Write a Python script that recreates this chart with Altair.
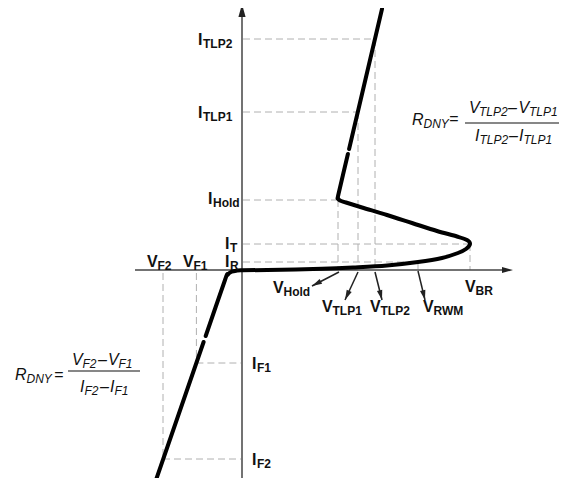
import math
import altair as alt
import pandas as pd

# ---- Diagram coordinates: V (horizontal), I (vertical); origin at the axes crossing ----

# I-V characteristic, three drawn pieces (gaps between them as in the original)
seg_a_v = [-86.7, -38.4]
seg_a_i = [-212, -72]
seg_b_v = [-36.3, -17, -14.5, -10.5, -5, 0, 40, 80, 111, 145, 176, 200, 216, 224, 228,
           225, 215, 195, 170, 145, 120, 104, 98, 96, 96.5, 105.9]
seg_b_i = [-66, -10, -5, -1.8, -0.6, -0.3, 0.3, 1.2, 2.5, 4.5, 8, 12, 17, 21, 26,
           30, 33.5, 39, 47, 55, 62.5, 67.5, 69.5, 72, 76, 116]
seg_c_v = [107.1, 140]
seg_c_i = [121, 261]

# Characteristic levels
I_TLP2, I_TLP1, I_HOLD, I_T, I_R = 231, 158, 70, 26, 8
V_TLP2, V_TLP1, V_HOLD, V_BR, V_RWM = 133, 116, 96, 228, 176
V_F2, V_F1, I_F2, I_F1 = -79, -45.6, -189, -93

# dashed guide lines: (V1, I1, V2, I2)
guides = [
    (1, I_TLP2, V_TLP2, I_TLP2), (V_TLP2, I_TLP2, V_TLP2, 1),
    (1, I_TLP1, V_TLP1, I_TLP1), (V_TLP1, I_TLP1, V_TLP1, 1),
    (1, I_HOLD, V_HOLD, I_HOLD), (V_HOLD, I_HOLD, V_HOLD, 1),
    (1, I_T, V_BR, I_T), (V_BR, I_T, V_BR, 0),
    (1, I_R, V_RWM, I_R), (V_RWM, I_R, V_RWM, 0),
    (V_F2, -3, V_F2, I_F2), (V_F2, I_F2, -1, I_F2),
    (V_F1, -3, V_F1, I_F1), (V_F1, I_F1, -1, I_F1),
]

# axes (V1, I1, V2, I2)
axes_lines = [(0, -216, 0, 256), (-107, 0, 262, 0)]
# axis arrow tips (V, I, length)
axis_tips = [(0, 266, 13), (271, 0, 11)]

# label pointer arrows: start (V, I) -> tip (V, I)
pointer_start_v = [97, 116, 133, 176]
pointer_start_i = [-2, -2, -2, -1]
pointer_tip_v = [70, 103, 140, 183]
pointer_tip_i = [-16, -30, -30, -30]

# bold labels: main letter, subscript, left V, baseline I
lab_main = ["I", "I", "I", "I", "I", "V", "V", "I", "I", "V", "V", "V", "V", "V"]
lab_sub = ["TLP2", "TLP1", "Hold", "T", "R", "F2", "F1", "F1", "F2", "Hold", "TLP1", "TLP2", "RWM", "BR"]
lab_v = [-44, -44, -34, -17, -17, -95, -59, 10, 10, 31, 80, 128, 181, 223]
lab_i = [225, 152, 66, 21, 3, 3, 3, -99, -195, -23, -42, -42, -42, -22]

# formula pieces (italic): text, V, I, is_sub
f_text = ["R", "DNY", "=", "V", "TLP2", "–", "V", "TLP1", "I", "TLP2", "–", "I", "TLP1",
          "R", "DNY", "=", "V", "F2", "–", "V", "F1", "I", "F2", "–", "I", "F1"]
f_v = [170, 181.5, 207, 227, 237, 266, 276.5, 287, 233, 237.5, 267, 277, 281.5,
       -227, -215.5, -188, -170, -159.5, -144, -134, -123.5, -162, -157.5, -142, -132, -127.5]
f_i = [145, 142, 146, 157, 154, 157, 157, 154, 129, 126, 129, 129, 126,
       -110, -113, -110, -95, -98, -95, -95, -98, -122, -125, -122, -122, -125]
f_sub = [0, 1, 0, 0, 1, 0, 0, 1, 0, 1, 0, 0, 1,
         0, 1, 0, 0, 1, 0, 0, 1, 0, 1, 0, 0, 1]
# fraction bars (V1, I1, V2, I2)
frac_bars = [(223, 147, 317, 147), (-174, -101, -102, -101)]

# ---- tables ----
curve_rows = []
for name, vs, is_ in [("a", seg_a_v, seg_a_i), ("b", seg_b_v, seg_b_i), ("c", seg_c_v, seg_c_i)]:
    for k, (v, i) in enumerate(zip(vs, is_)):
        curve_rows.append({"seg": name, "ord": k, "V": v, "I": i})
curve_df = pd.DataFrame(curve_rows)

def seg_df(rows):
    return pd.DataFrame(rows, columns=["V1", "I1", "V2", "I2"])

guide_df = seg_df(guides)
axes_df = seg_df(axes_lines)
frac_df = seg_df(frac_bars)
ptr_df = seg_df(list(zip(pointer_start_v, pointer_start_i, pointer_tip_v, pointer_tip_i)))

head_rows = []
# axis tips: up and right
head_rows.append({"V": 0, "I": axis_tips[0][1] - axis_tips[0][2] / 2, "ang": 180, "sz": axis_tips[0][2] ** 2})
head_rows.append({"V": axis_tips[1][0] - axis_tips[1][2] / 2, "I": 0, "ang": 270, "sz": axis_tips[1][2] ** 2})
for sv, si, tv, ti in zip(pointer_start_v, pointer_start_i, pointer_tip_v, pointer_tip_i):
    dx, dy = tv - sv, -(ti - si)  # screen direction
    L = math.hypot(dx, dy)
    ux, uy = dx / L, dy / L
    ang = math.degrees(math.atan2(-ux, uy)) % 360
    ln = 10
    head_rows.append({"V": tv - ux * ln / 2, "I": ti + uy * ln / 2, "ang": ang, "sz": ln ** 2})
head_df = pd.DataFrame(head_rows)

lab_df = pd.DataFrame({"main": lab_main, "sub": lab_sub, "V": lab_v, "I": lab_i})
lab_df["Vs"] = lab_df["V"] + lab_df["main"].map({"I": 5.0, "V": 10.5})
lab_df["Is"] = lab_df["I"] - 3

f_df = pd.DataFrame({"t": f_text, "V": f_v, "I": f_i, "sub": f_sub})

# ---- scales ----
xs = alt.Scale(domain=[-234, 319], nice=False, zero=False)
ys = alt.Scale(domain=[-208, 262], nice=False, zero=False)

def X(f):
    return alt.X(f, type="quantitative", scale=xs, axis=None)

def Y(f):
    return alt.Y(f, type="quantitative", scale=ys, axis=None)

guides_l = alt.Chart(guide_df).mark_rule(color="#b0b0b0", strokeWidth=1, strokeDash=[7, 4]).encode(
    x=X("V1"), y=Y("I1"), x2="V2:Q", y2="I2:Q")
axes_l = alt.Chart(axes_df).mark_rule(color="#444444", strokeWidth=1.5).encode(
    x=X("V1"), y=Y("I1"), x2="V2:Q", y2="I2:Q")
curve_l = alt.Chart(curve_df).mark_line(color="black", strokeWidth=4, strokeCap="round",
                                        strokeJoin="round", interpolate="cardinal").encode(
    x=X("V"), y=Y("I"), detail="seg:N", order="ord:Q")
ptr_l = alt.Chart(ptr_df).mark_rule(color="#222222", strokeWidth=1.5).encode(
    x=X("V1"), y=Y("I1"), x2="V2:Q", y2="I2:Q")
heads_l = alt.Chart(head_df).mark_point(shape="M0,1L-0.55,-1L0.55,-1Z", filled=True,
                                        color="#222222", opacity=1, strokeWidth=0).encode(
    x=X("V"), y=Y("I"), angle=alt.Angle("ang:Q", scale=None), size=alt.Size("sz:Q", scale=None))
frac_l = alt.Chart(frac_df).mark_rule(color="#111111", strokeWidth=1.2).encode(
    x=X("V1"), y=Y("I1"), x2="V2:Q", y2="I2:Q")

lab_main_l = alt.Chart(lab_df).mark_text(align="left", baseline="alphabetic", font="Liberation Sans",
                                         fontWeight="bold", fontSize=16, color="#111111").encode(
    x=X("V"), y=Y("I"), text="main:N")
lab_sub_l = alt.Chart(lab_df).mark_text(align="left", baseline="alphabetic", font="Liberation Sans",
                                        fontWeight="bold", fontSize=12, color="#111111").encode(
    x=X("Vs"), y=Y("Is"), text="sub:N")
f_main_l = alt.Chart(f_df[f_df["sub"] == 0]).mark_text(align="left", baseline="alphabetic",
                                                      font="Liberation Sans", fontStyle="italic",
                                                      fontSize=16, color="#111111").encode(
    x=X("V"), y=Y("I"), text="t:N")
f_sub_l = alt.Chart(f_df[f_df["sub"] == 1]).mark_text(align="left", baseline="alphabetic",
                                                     font="Liberation Sans", fontStyle="italic",
                                                     fontSize=12, color="#111111").encode(
    x=X("V"), y=Y("I"), text="t:N")

chart = alt.layer(guides_l, axes_l, curve_l, ptr_l, heads_l, frac_l,
                  lab_main_l, lab_sub_l, f_main_l, f_sub_l).properties(
    width=553, height=470, autosize=alt.AutoSizeParams(type="none"), padding=0
).configure_view(stroke=None)

chart.save("out.html", embed_options={"renderer": "svg", "actions": False})
